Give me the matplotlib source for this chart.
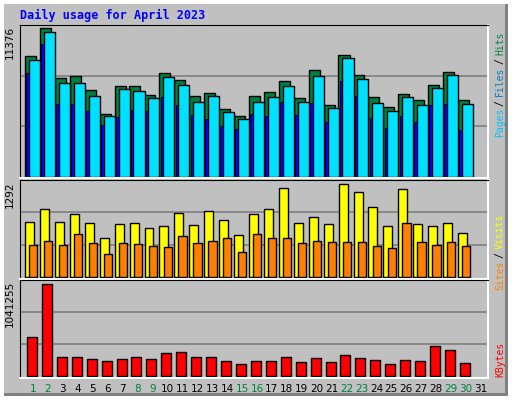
import matplotlib.pyplot as plt
from matplotlib.patches import Rectangle
import numpy as np

days = np.arange(1, 32)
weekend = [1, 2, 8, 9, 15, 16, 22, 23, 29, 30]

hits = [9217, 11376, 7523, 7677, 6599, 4828, 6907, 6907, 6214, 7908, 7369, 6137, 6368, 5213, 4674,
        6137, 6445, 7292, 5983, 8139, 5521, 9294, 7754, 6060, 5367, 6291, 5829, 6984, 7985, 5829]
files = [8909, 11065, 7138, 7138, 6137, 4674, 6676, 6522, 5983, 7600, 6984, 5752, 6137, 4982, 4443,
         5752, 6060, 6907, 5752, 7677, 5290, 9063, 7446, 5675, 5059, 6060, 5521, 6753, 7754, 5598]
pages = [7908, 10141, 5598, 5598, 5059, 3981, 4597, 5136, 5059, 6060, 5521, 4751, 4443, 3904, 3673,
         4828, 4674, 5752, 4751, 5675, 4212, 7292, 6137, 4520, 3750, 4674, 4212, 5521, 5598, 3596]
visits = [764, 945, 764, 875, 750, 542, 736, 750, 681, 708, 889, 722, 917, 792, 583,
          875, 945, 1236, 750, 833, 736, 1292, 1181, 972, 708, 1222, 736, 708, 750, 611]
sites = [444, 500, 444, 597, 472, 319, 472, 458, 431, 417, 569, 472, 500, 542, 347,
         597, 542, 542, 472, 500, 486, 486, 486, 431, 403, 750, 486, 444, 486, 431]
kbytes = [439000, 1041255, 212000, 212000, 190000, 167000, 190000, 212000, 190000, 258000,
          269000, 212000, 212000, 167000, 133000, 167000, 167000, 212000, 156000, 201000,
          156000, 235000, 201000, 178000, 133000, 178000, 167000, 337000, 292000, 144000]

W, H = 512, 400
fig = plt.figure(figsize=(W / 100, H / 100), dpi=100, facecolor="white")
bg = fig.add_axes([0, 0, 1, 1])
bg.set_xlim(0, W)
bg.set_ylim(H, 0)
bg.axis("off")
bg.add_patch(Rectangle((4, 4), 504, 392, facecolor="#808080", edgecolor="none"))
bg.add_patch(Rectangle((4, 4), 501, 389, facecolor="#C0C0C0", edgecolor="none"))

bg.text(20, 15, "Daily usage for April 2023", color="#0000FF", fontsize=8.5,
        family="DejaVu Sans Mono", fontweight="bold", va="center", ha="left")

px_day = 14.93
x0 = 33 - px_day  # pixel of day 0
left_px, right_px = 20, 488
xlim = ((left_px - x0) / px_day, (right_px - x0) / px_day)


def panel(top, bottom, base, scale_top):
    # top/bottom: frame pixels; base: bar baseline pixel
    ax = fig.add_axes([left_px / W, 1 - bottom / H, (right_px - left_px) / W, (bottom - top) / H])
    ax.set_facecolor("#C0C0C0")
    ax.set_xlim(*xlim)
    frac = (bottom - base) / (base - top)
    ax.set_ylim(-frac * scale_top, scale_top)
    for f in (1 / 3, 2 / 3):
        ax.axhline(scale_top * f, color="#808080", lw=1.2, zorder=0)
    ax.set_xticks([])
    ax.set_yticks([])
    for s in ("left", "top"):
        ax.spines[s].set_color("black")
    for s in ("right", "bottom"):
        ax.spines[s].set_color("white")
        ax.spines[s].set_linewidth(1.5)
    return ax


d = days[:30]
ax1 = panel(25, 178, 176.7, 150.7 * 77.0)
ax1.bar(d - 0.17, hits, width=0.74, color="#008040", edgecolor="black", lw=1)
ax1.bar(d + 0.1, files, width=0.74, color="#00E0FF", edgecolor="black", lw=1)
ax1.bar(d - 0.36, pages, width=0.18, color="#0000FF", edgecolor="black", lw=0.6)

ax2 = panel(180, 279, 277, 97 * 13.89)
ax2.bar(d - 0.23, visits, width=0.6, color="#FFFF00", edgecolor="black", lw=1)
ax2.bar(d + 0.02, sites, width=0.55, color="#FF8000", edgecolor="black", lw=1)

ax3 = panel(280, 378, 375.7, 95.7 * 11355)
ax3.bar(d - 0.07, kbytes, width=0.67, color="#FF0000", edgecolor="black", lw=1)

# left max labels
for y, lab in ((26, "11376"), (182, "1292"), (281, "1041255")):
    bg.text(10, y, lab, rotation=90, ha="center", va="top", fontsize=7.5, color="black")

# day labels
for day in days:
    bg.text(x0 + day * px_day, 389, str(day), ha="center", va="center", fontsize=7.5,
            color="#008040" if day in weekend else "black")


def stacked(parts, y_bottom, x=500, cw=5.5, gap=4):
    y = y_bottom
    for txt, col in parts:
        bg.text(x, y, txt, rotation=90, ha="center", va="bottom", fontsize=7,
                family="DejaVu Sans Mono", color=col)
        y -= len(txt) * cw + gap


stacked([("Pages", "#00C0FF"), ("/", "black"), ("Files", "#0080C0"),
         ("/", "black"), ("Hits", "#008040")], 137)
stacked([("Sites", "#FF8000"), ("/", "black"), ("Visits", "#FFFF00")], 290)
stacked([("KBytes", "#FF0000")], 377)

fig.savefig("out.png", dpi=100, facecolor="white")
